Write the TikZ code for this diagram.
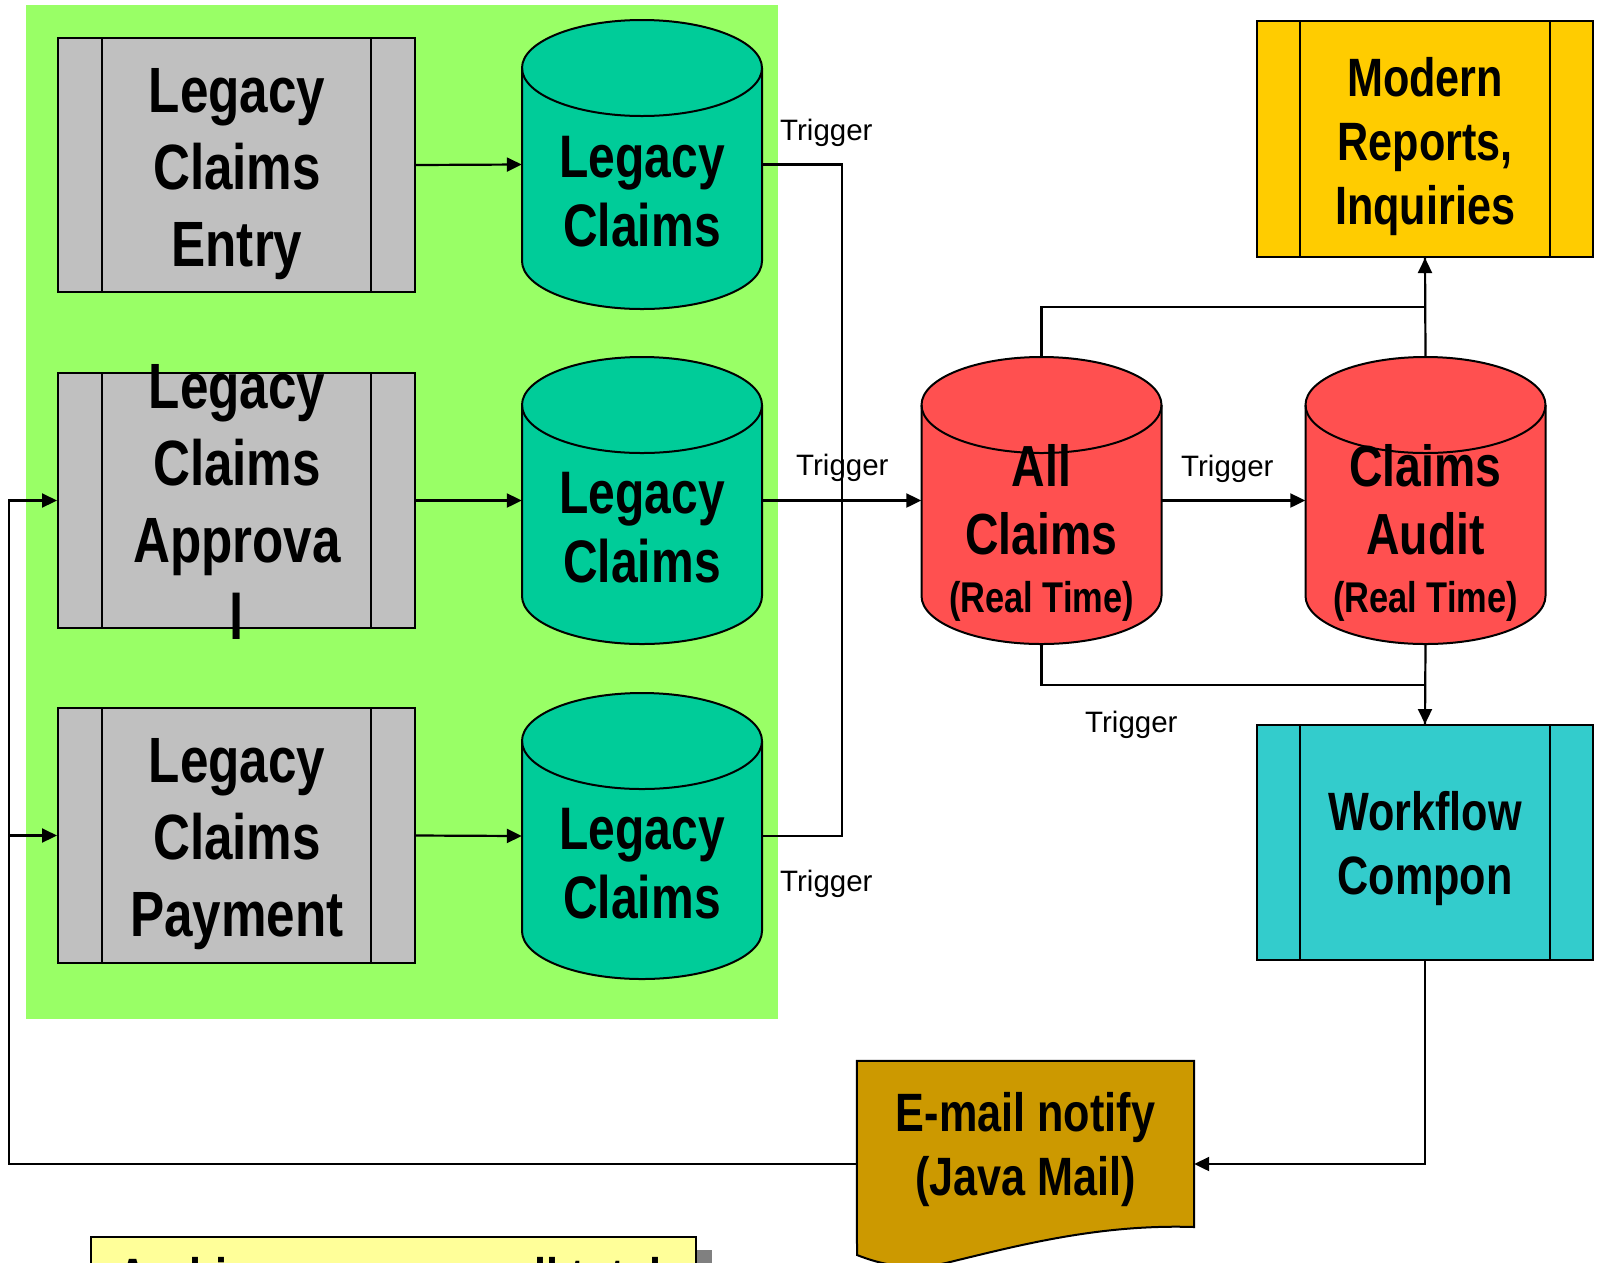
\documentclass[tikz,border=0pt]{standalone}
\usepackage{fontspec}
\setmainfont{Liberation Sans}
\newfontfamily\narrowfam[FakeStretch=0.8]{Liberation Sans}
\usetikzlibrary{arrows.meta}

\definecolor{panelgreen}{HTML}{99FF66}
\definecolor{procgray}{HTML}{C0C0C0}
\definecolor{dbgreen}{HTML}{00CC99}
\definecolor{dbred}{HTML}{FF5050}
\definecolor{reportyellow}{HTML}{FFCC00}
\definecolor{flowteal}{HTML}{33CCCC}
\definecolor{mailgold}{HTML}{CC9900}
\definecolor{notepale}{HTML}{FFFF99}
\definecolor{shadowgray}{HTML}{808080}

% database cylinder: name, centre x, top y, bottom y, fill colour
\newcommand\dbcylinder[5]{%
  \node[minimum width=240pt, minimum height={(#4-#3)*1pt}, inner sep=0pt] (#1) at ({#2},{(#3+#4)/2}) {};
  \path[fill=#5, draw=black, line width=2pt]
    ({#2-120},{#3+48}) -- ({#2-120},{#4-48})
    arc[start angle=180, end angle=360, x radius=120pt, y radius=48pt]
    -- ({#2+120},{#3+48})
    arc[start angle=0, end angle=180, x radius=120pt, y radius=48pt] -- cycle;
  \draw[line width=2pt] ({#2-120},{#3+48})
    arc[start angle=180, end angle=360, x radius=120pt, y radius=48pt];
}

\begin{document}
\begin{tikzpicture}[x=1pt, y=-1pt,
  procbox/.style={draw, line width=2pt, inner sep=0pt,
    path picture={
      \draw[line width=2pt] ([xshift=#1]path picture bounding box.north west) -- ([xshift=#1]path picture bounding box.south west);
      \draw[line width=2pt] ([xshift=-#1]path picture bounding box.north east) -- ([xshift=-#1]path picture bounding box.south east);}},
  procbox/.default=44pt,
  bigtext/.style={font={\narrowfam\bfseries\fontsize{64}{77}\selectfont}, align=center, inner sep=0pt},
  dbtext/.style={font={\narrowfam\bfseries\fontsize{60}{69}\selectfont}, align=center, inner sep=0pt},
  rttext/.style={font={\narrowfam\bfseries\fontsize{58}{68}\selectfont}, align=center, inner sep=0pt},
  midtext/.style={font={\narrowfam\bfseries\fontsize{54}{64}\selectfont}, align=center, inner sep=0pt},
  trig/.style={font={\fontsize{29.5}{34}\selectfont}, inner sep=0pt, anchor=base west},
  wire/.style={line width=2.2pt},
  conn/.style={line width=2.2pt, -{Triangle[length=15pt,width=14pt]}}]

\useasboundingbox (0,0) rectangle (1603,1262);
\fill[white] (0,0) rectangle (1603,1262);

% legacy area
\fill[panelgreen] (26,5) rectangle (778,1019);

% legacy processes
\node[procbox, fill=procgray, minimum width=357pt, minimum height=254pt] (b1) at (236.5,165) {};
\node[procbox, fill=procgray, minimum width=357pt, minimum height=255pt] (b2) at (236.5,500.5) {};
\node[procbox, fill=procgray, minimum width=357pt, minimum height=255pt] (b3) at (236.5,835.5) {};
\node[bigtext] (t1) at (237,174) {Legacy\\Claims\\Entry};
\node[bigtext] (t2) at (237,502) {Legacy\\Claims\\Approva\\l};
\node[bigtext] (t3) at (237,844) {Legacy\\Claims\\Payment};

% legacy databases
\dbcylinder{c1}{642}{20}{309}{dbgreen}
\dbcylinder{c2}{642}{357}{644}{dbgreen}
\dbcylinder{c3}{642}{693}{979}{dbgreen}
\node[dbtext] (ct1) at (642,192) {Legacy\\Claims};
\node[dbtext] (ct2) at (642,528) {Legacy\\Claims};
\node[dbtext] (ct3) at (642,864) {Legacy\\Claims};

% real-time databases
\dbcylinder{a}{1041.5}{357}{644}{dbred}
\dbcylinder{au}{1425.5}{357}{644}{dbred}
\node[rttext] (at) at (1041.5,533) {All\\Claims\\[-10pt]{\fontsize{43}{50}\selectfont (Real Time)}};
\node[rttext] (aut) at (1425.5,533) {Claims\\Audit\\[-10pt]{\fontsize{43}{50}\selectfont (Real Time)}};

% modern components
\node[procbox=43pt, fill=reportyellow, minimum width=336pt, minimum height=236pt] (m) at (1425,139) {};
\node[midtext] (mt) at (1425,147) {Modern\\Reports,\\Inquiries};
\node[procbox=43pt, fill=flowteal, minimum width=336pt, minimum height=235pt] (w) at (1425,842.5) {};
\node[midtext] (wt) at (1425,849) {Workflow\\Compon};

% e-mail document
\node[minimum width=337pt, minimum height=206pt, inner sep=0pt] (e) at (1025.5,1164) {};
\path[fill=mailgold, draw=black, line width=2pt]
  (e.north west) -- (e.north east) -- (1194,1227)
  .. controls (1100,1224) and (1020,1245) .. (950,1262)
  .. controls (910,1272) and (880,1264) .. (857,1255) -- cycle;
\node[midtext] (et) at (1025.5,1150) {E-mail notify\\(Java Mail)};

% note at the foot, running off the page edge
\fill[shadowgray] (107,1250) rectangle (712,1300);
\node[draw, line width=2pt, fill=notepale, minimum width=605pt, minimum height=64pt, anchor=north west] (note) at (90,1236) {};
\node[font={\narrowfam\bfseries\fontsize{54}{64}\selectfont}, inner sep=0pt, anchor=base west] (nt) at (117,1296) {Archive summary: all totals};

% process to database
\draw[conn] (b1.east) -- (c1.west);
\draw[conn] (b2.east) -- (c2.west);
\draw[conn] (b3.east) -- (c3.west);

% triggers into the real-time store
\coordinate (tj) at (842,500.5);
\draw[wire] (c1.east) -| (tj) |- (c3.east);
\draw[conn] (c2.east) -- (a.west);
\draw[conn] (a.east) -- (au.west);

% fan-out to reports and workflow
\draw[conn] (a.north) -- ++(0,-50) -| (m.south);
\draw[wire] (au.north) -- (m.south);
\draw[conn] (a.south) -- ++(0,41) -| (w.north);
\draw[wire] (au.south) -- (w.north);

% notification loop
\draw[conn] (w.south) |- (e.east);
\coordinate (fb) at (9,1164);
\draw[conn] (e.west) -- (fb) |- (b2.west);
\draw[conn] (fb) |- (b3.west);

% trigger labels
\node[trig] (tg1) at (780,140) {Trigger};
\node[trig] (tg2) at (796,475) {Trigger};
\node[trig] (tg3) at (780,891) {Trigger};
\node[trig] (tg4) at (1181,476) {Trigger};
\node[trig] (tg5) at (1085,732) {Trigger};
\end{tikzpicture}
\end{document}
